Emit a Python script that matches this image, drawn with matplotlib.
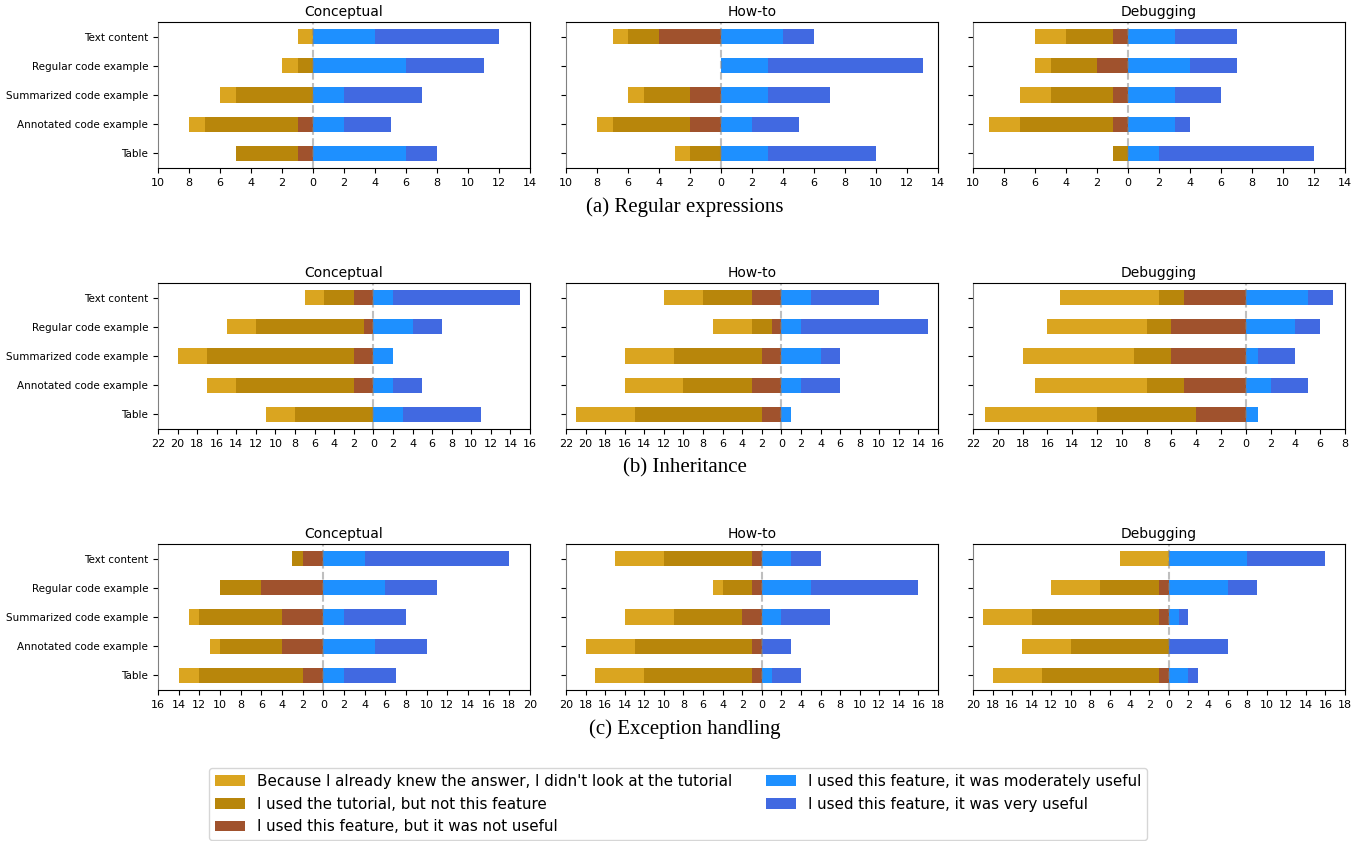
import matplotlib.pyplot as plt
import numpy as np

categories = ['Text content', 'Regular code example', 'Summarized code example',
              'Annotated code example', 'Table']
answers = ["Because I already knew the answer, I didn't look at the tutorial",
           'I used the tutorial, but not this feature',
           'I used this feature, but it was not useful',
           'I used this feature, it was moderately useful',
           'I used this feature, it was very useful']
colors = ['goldenrod', 'darkgoldenrod', 'sienna', 'dodgerblue', 'royalblue']
tasks = ['Conceptual', 'How-to', 'Debugging']
topics = ['(a) Regular expressions', '(b) Inheritance', '(c) Exception handling']

# counts per row: knew, tutorial only, not useful, moderately useful, very useful
regex_conceptual = [[1, 0, 0, 4, 8], [1, 1, 0, 6, 5], [1, 5, 0, 2, 5], [1, 6, 1, 2, 3], [0, 4, 1, 6, 2]]
regex_howto = [[1, 2, 4, 4, 2], [0, 0, 0, 3, 10], [1, 3, 2, 3, 4], [1, 5, 2, 2, 3], [1, 2, 0, 3, 7]]
regex_debugging = [[2, 3, 1, 3, 4], [1, 3, 2, 4, 3], [2, 4, 1, 3, 3], [2, 6, 1, 3, 1], [0, 1, 0, 2, 10]]

inherit_conceptual = [[2, 3, 2, 2, 13], [3, 11, 1, 4, 3], [3, 15, 2, 2, 0], [3, 12, 2, 2, 3], [3, 8, 0, 3, 8]]
inherit_howto = [[4, 5, 3, 3, 7], [4, 2, 1, 2, 13], [5, 9, 2, 4, 2], [6, 7, 3, 2, 4], [6, 13, 2, 1, 0]]
inherit_debugging = [[8, 2, 5, 5, 2], [8, 2, 6, 4, 2], [9, 3, 6, 1, 3], [9, 3, 5, 2, 3], [9, 8, 4, 1, 0]]

except_conceptual = [[0, 1, 2, 4, 14], [0, 4, 6, 6, 5], [1, 8, 4, 2, 6], [1, 6, 4, 5, 5], [2, 10, 2, 2, 5]]
except_howto = [[5, 9, 1, 3, 3], [1, 3, 1, 5, 11], [5, 7, 2, 2, 5], [5, 12, 1, 0, 3], [5, 11, 1, 1, 3]]
except_debugging = [[5, 0, 0, 8, 8], [5, 6, 1, 6, 3], [5, 13, 1, 1, 1], [5, 10, 0, 0, 6], [5, 12, 1, 2, 1]]

panels = [[regex_conceptual, regex_howto, regex_debugging],
          [inherit_conceptual, inherit_howto, inherit_debugging],
          [except_conceptual, except_howto, except_debugging]]
xlims = [[(-10, 14), (-10, 14), (-10, 14)],
         [(-22, 16), (-22, 16), (-22, 8)],
         [(-16, 20), (-20, 18), (-20, 18)]]

W, H = 1364, 841
fig = plt.figure(figsize=(W / 100, H / 100), dpi=100)

col_left = [158, 566, 973]
ax_w = 372
row_top = [22, 283, 544]
ax_h = 146

for r in range(3):
    for c in range(3):
        ax = fig.add_axes([col_left[c] / W, 1 - (row_top[r] + ax_h) / H, ax_w / W, ax_h / H])
        d = np.array(panels[r][c])
        y = np.arange(len(categories))
        knew, tut, nu, mod, very = d.T
        ax.barh(y, nu, left=-nu, height=0.52, color=colors[2], label=answers[2])
        ax.barh(y, tut, left=-(nu + tut), height=0.52, color=colors[1], label=answers[1])
        ax.barh(y, knew, left=-(nu + tut + knew), height=0.52, color=colors[0], label=answers[0])
        ax.barh(y, mod, left=0, height=0.52, color=colors[3], label=answers[3])
        ax.barh(y, very, left=mod, height=0.52, color=colors[4], label=answers[4])
        ax.axvline(0, color='gray', linestyle='--', linewidth=1.5, alpha=0.5)
        lo, hi = xlims[r][c]
        ax.set_xlim(lo, hi)
        ax.set_ylim(4.5, -0.5)
        ticks = np.arange(lo, hi + 1, 2)
        ax.set_xticks(ticks)
        ax.set_xticklabels([str(abs(t)) for t in ticks], fontsize=8)
        ax.set_yticks(y)
        if c == 0:
            ax.set_yticklabels(categories, fontsize=7.5)
        else:
            ax.set_yticklabels([])
        ax.spines['left'].set_color('gray')
        ax.set_title(tasks[c], fontsize=10, pad=4)
        if r == 0 and c == 0:
            handles, labels = ax.get_legend_handles_labels()

    fig.text(685 / W, 1 - (row_top[r] + 185) / H, topics[r], ha='center', va='center',
             fontsize=15, family='Liberation Serif')

order = [2, 1, 0, 3, 4]
fig.legend([handles[i] for i in order], [labels[i] for i in order], loc='lower center',
           bbox_to_anchor=(678 / W, -0.008), ncol=2, fontsize=10.9, frameon=True,
           handlelength=2.0, columnspacing=2.2)

fig.savefig('out.png', dpi=100)
